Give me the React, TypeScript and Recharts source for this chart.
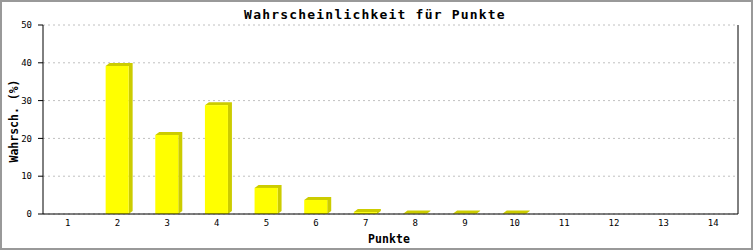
import React from 'react';
import { BarChart, Bar, XAxis, YAxis, CartesianGrid } from 'recharts';

const categories = ['1', '2', '3', '4', '5', '6', '7', '8', '9', '10', '11', '12', '13', '14'];
const probabilities = [0, 39.15, 20.9, 28.8, 6.9, 3.7, 0.5, 0.1, 0.1, 0.1, 0, 0, 0, 0];
const yTicks = [0, 10, 20, 30, 40, 50];

const titleText = 'Wahrscheinlichkeit für Punkte';
const xLabel = 'Punkte';
const yLabel = 'Wahrsch. (%)';

const data = categories.map((c, i) => ({ name: c, v: probabilities[i] }));

const MONO = '"DejaVu Sans Mono", "Liberation Mono", monospace';

const ShadowBar = (props: any) => {
  const { x, y, width, height, payload } = props;
  if (!payload || !(payload.v > 0)) return null;
  const dx = 4;
  const dy = 3;
  const bottom = y + height;
  const pts = [
    [x, y],
    [x + dx, y - dy],
    [x + width + dx, y - dy],
    [x + width + dx, bottom - dy],
    [x + width, bottom],
    [x + width, y],
  ]
    .map((p) => p.join(','))
    .join(' ');
  return (
    <g>
      <polygon points={pts} fill="#cccc00" stroke="none" />
      {height > 0 && <rect x={x} y={y} width={width} height={height} fill="#ffff00" stroke="none" />}
    </g>
  );
};

export default function App() {
  return (
    <div
      style={{
        position: 'absolute',
        left: 0,
        top: 0,
        width: 753,
        height: 250,
        boxSizing: 'border-box',
        border: '2px solid #999999',
        background: '#ffffff',
      }}
    >
      <div style={{ position: 'absolute', left: -2, top: -2 }}>
        <BarChart
          width={753}
          height={250}
          data={data}
          margin={{ top: 25, right: 14, bottom: 0, left: 0 }}
          barCategoryGap={0}
        >
          <CartesianGrid
            yAxisId="left"
            vertical={false}
            stroke="#c0c0c0"
            strokeDasharray="2 3"
          />
          <XAxis
            dataKey="name"
            height={36}
            tickLine={false}
            tickSize={0}
            tickMargin={6}
            axisLine={{ stroke: '#000000' }}
            tick={{ fill: '#000000', fontSize: 9, fontFamily: MONO }}
            interval={0}
          />
          <YAxis
            yAxisId="left"
            width={43}
            domain={[0, 50]}
            ticks={yTicks}
            tickSize={5}
            tickMargin={6}
            tickLine={{ stroke: '#000000' }}
            axisLine={{ stroke: '#000000' }}
            tick={{ fill: '#000000', fontSize: 9, fontFamily: MONO }}
          />
          <YAxis
            yAxisId="right"
            orientation="right"
            width={1}
            domain={[0, 50]}
            tick={false}
            tickLine={false}
            axisLine={{ stroke: '#000000' }}
          />
          <Bar
            yAxisId="left"
            dataKey="v"
            barSize={23}
            shape={ShadowBar}
            isAnimationActive={false}
          />
          <text
            x={375}
            y={19}
            textAnchor="middle"
            fontFamily={MONO}
            fontWeight="bold"
            fontSize={13}
            letterSpacing={1.2}
            fill="#000000"
          >
            {titleText}
          </text>
          <text
            x={389}
            y={243}
            textAnchor="middle"
            fontFamily={MONO}
            fontWeight="bold"
            fontSize={11.5}
            letterSpacing={0.1}
            fill="#000000"
          >
            {xLabel}
          </text>
          <text
            x={18}
            y={121}
            textAnchor="middle"
            transform="rotate(-90, 18, 121)"
            fontFamily={MONO}
            fontWeight="bold"
            fontSize={11.5}
            letterSpacing={0}
            fill="#000000"
          >
            {yLabel}
          </text>
        </BarChart>
      </div>
    </div>
  );
}
